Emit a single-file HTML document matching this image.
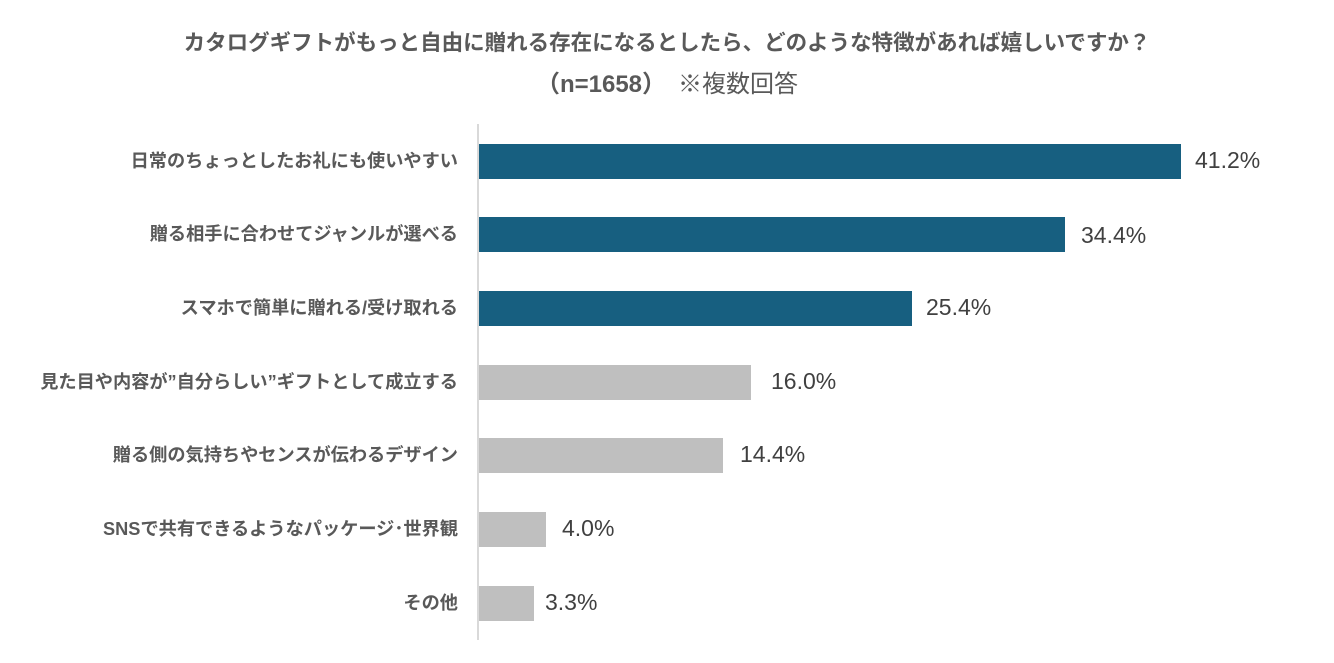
<!DOCTYPE html>
<html><head><meta charset="utf-8"><style>
body{margin:0;width:1334px;height:663px;background:#fff;position:relative;overflow:hidden;font-family:"Liberation Sans","Noto Sans CJK JP",sans-serif;}
.t{position:absolute;left:0;width:1334px;text-align:center;color:#595959;}
.l{position:absolute;right:876px;font-size:18.2px;font-weight:bold;color:#595959;white-space:nowrap;line-height:35px;}
.b{position:absolute;left:479px;height:35px;}
.v{position:absolute;font-size:23px;color:#404040;line-height:35px;}
</style></head><body>
<div class="t" style="top:26px;font-size:21.5px;font-weight:bold;">カタログギフトがもっと自由に贈れる存在になるとしたら、どのような特徴があれば嬉しいですか？</div>
<div class="t" style="top:64px;font-size:24px;"><b>（n=1658）</b>　※複数回答</div>
<div style="position:absolute;left:477px;top:124px;width:2px;height:516px;background:#d9d9d9"></div>
<div class="l" style="top:144px">日常のちょっとしたお礼にも使いやすい</div>
<div class="b" style="top:144px;width:702px;background:#175f80"></div>
<div class="v" style="top:143px;left:1195px">41.2%</div>
<div class="l" style="top:217px">贈る相手に合わせてジャンルが選べる</div>
<div class="b" style="top:217px;width:586px;background:#175f80"></div>
<div class="v" style="top:218px;left:1081px">34.4%</div>
<div class="l" style="top:291px">スマホで簡単に贈れる/受け取れる</div>
<div class="b" style="top:291px;width:433px;background:#175f80"></div>
<div class="v" style="top:290px;left:926px">25.4%</div>
<div class="l" style="top:365px">見た目や内容が”自分らしい”ギフトとして成立する</div>
<div class="b" style="top:365px;width:272px;background:#bfbfbf"></div>
<div class="v" style="top:364px;left:771px">16.0%</div>
<div class="l" style="top:438px">贈る側の気持ちやセンスが伝わるデザイン</div>
<div class="b" style="top:438px;width:244px;background:#bfbfbf"></div>
<div class="v" style="top:437px;left:740px">14.4%</div>
<div class="l" style="top:512px">SNSで共有できるようなパッケージ･世界観</div>
<div class="b" style="top:512px;width:67px;background:#bfbfbf"></div>
<div class="v" style="top:511px;left:562px">4.0%</div>
<div class="l" style="top:586px">その他</div>
<div class="b" style="top:586px;width:55px;background:#bfbfbf"></div>
<div class="v" style="top:585px;left:545px">3.3%</div>
</body></html>
